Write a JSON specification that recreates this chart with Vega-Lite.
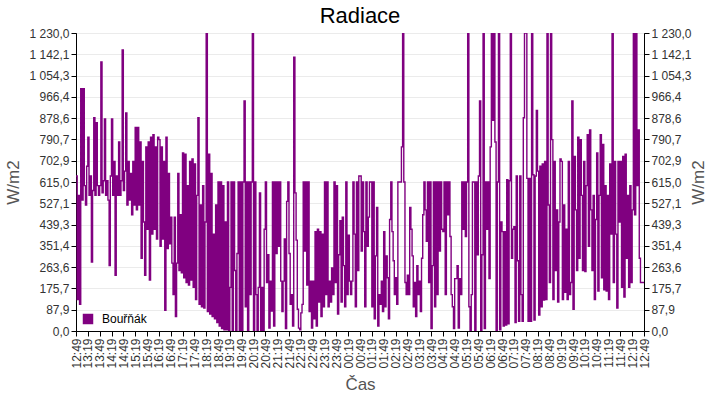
{
  "$schema": "https://vega.github.io/schema/vega-lite/v6.json",
  "description": "Radiace - Bourňák, 24 h",
  "width": 568,
  "height": 298,
  "autosize": "none",
  "padding": {"left": 76, "top": 33, "right": 76, "bottom": 69},
  "title": {"text": "Radiace", "fontSize": 22, "fontWeight": "normal", "font": "Liberation Sans", "color": "#000", "offset": -1},
  "data": {
    "values": [
      {"m":0,"v":640},{"m":3,"v":130},{"m":6,"v":560},{"m":9,"v":110},{"m":12,"v":1000},{"m":15,"v":540},{"m":18,"v":1000},{"m":21,"v":600},{"m":24,"v":520},{"m":27,"v":680},
      {"m":30,"v":800},{"m":33,"v":560},{"m":36,"v":640},{"m":39,"v":285},{"m":42,"v":580},{"m":45,"v":880},{"m":48,"v":560},{"m":51,"v":860},{"m":54,"v":600},{"m":57,"v":560},
      {"m":60,"v":600},{"m":63,"v":1110},{"m":66,"v":570},{"m":69,"v":620},{"m":72,"v":875},{"m":75,"v":560},{"m":78,"v":620},{"m":81,"v":540},{"m":84,"v":270},{"m":87,"v":640},
      {"m":90,"v":875},{"m":93,"v":560},{"m":96,"v":700},{"m":99,"v":230},{"m":102,"v":640},{"m":105,"v":560},{"m":108,"v":780},{"m":111,"v":560},{"m":114,"v":620},{"m":117,"v":1160},
      {"m":120,"v":580},{"m":123,"v":660},{"m":126,"v":900},{"m":129,"v":520},{"m":132,"v":700},{"m":135,"v":540},{"m":138,"v":650},{"m":141,"v":480},{"m":144,"v":700},{"m":147,"v":520},
      {"m":150,"v":840},{"m":153,"v":500},{"m":156,"v":840},{"m":159,"v":520},{"m":162,"v":780},{"m":165,"v":300},{"m":168,"v":700},{"m":171,"v":450},{"m":174,"v":230},{"m":177,"v":760},
      {"m":180,"v":420},{"m":183,"v":780},{"m":186,"v":210},{"m":189,"v":800},{"m":192,"v":400},{"m":195,"v":810},{"m":198,"v":420},{"m":201,"v":760},{"m":204,"v":380},{"m":207,"v":800},
      {"m":210,"v":790},{"m":213,"v":350},{"m":216,"v":760},{"m":219,"v":380},{"m":222,"v":700},{"m":225,"v":85},{"m":228,"v":800},{"m":231,"v":340},{"m":234,"v":650},{"m":237,"v":360},
      {"m":240,"v":470},{"m":243,"v":280},{"m":246,"v":150},{"m":249,"v":470},{"m":252,"v":60},{"m":255,"v":280},{"m":258,"v":650},{"m":261,"v":250},{"m":264,"v":480},{"m":267,"v":240},
      {"m":270,"v":735},{"m":273,"v":220},{"m":276,"v":730},{"m":279,"v":200},{"m":282,"v":600},{"m":285,"v":190},{"m":288,"v":700},{"m":291,"v":210},{"m":294,"v":710},{"m":297,"v":180},
      {"m":300,"v":690},{"m":303,"v":130},{"m":306,"v":560},{"m":309,"v":880},{"m":312,"v":110},{"m":315,"v":520},{"m":318,"v":100},{"m":321,"v":600},{"m":324,"v":95},{"m":327,"v":450},
      {"m":330,"v":1230},{"m":333,"v":80},{"m":336,"v":730},{"m":339,"v":70},{"m":342,"v":650},{"m":345,"v":60},{"m":348,"v":400},{"m":351,"v":50},{"m":354,"v":520},{"m":357,"v":35},
      {"m":360,"v":615},{"m":363,"v":20},{"m":366,"v":615},{"m":369,"v":10},{"m":372,"v":600},{"m":375,"v":5},{"m":378,"v":450},{"m":381,"v":5},{"m":384,"v":615},{"m":387,"v":3},
      {"m":390,"v":180},{"m":393,"v":615},{"m":396,"v":0},{"m":399,"v":615},{"m":402,"v":250},{"m":405,"v":0},{"m":408,"v":320},{"m":411,"v":615},{"m":414,"v":0},{"m":417,"v":615},
      {"m":420,"v":0},{"m":423,"v":615},{"m":426,"v":950},{"m":429,"v":100},{"m":432,"v":615},{"m":435,"v":0},{"m":438,"v":615},{"m":441,"v":150},{"m":444,"v":615},{"m":447,"v":1230},
      {"m":450,"v":0},{"m":453,"v":615},{"m":456,"v":150},{"m":459,"v":0},{"m":462,"v":180},{"m":465,"v":570},{"m":468,"v":0},{"m":471,"v":180},{"m":474,"v":0},{"m":477,"v":420},
      {"m":480,"v":615},{"m":483,"v":200},{"m":486,"v":315},{"m":489,"v":12},{"m":492,"v":206},{"m":495,"v":82},{"m":498,"v":615},{"m":501,"v":20},{"m":504,"v":615},{"m":507,"v":320},
      {"m":510,"v":615},{"m":513,"v":350},{"m":516,"v":615},{"m":519,"v":206},{"m":522,"v":80},{"m":525,"v":206},{"m":528,"v":380},{"m":531,"v":10},{"m":534,"v":535},{"m":537,"v":615},
      {"m":540,"v":320},{"m":543,"v":110},{"m":546,"v":150},{"m":549,"v":20},{"m":552,"v":1130},{"m":555,"v":570},{"m":558,"v":375},{"m":561,"v":90},{"m":564,"v":12},{"m":567,"v":5},
      {"m":570,"v":75},{"m":573,"v":110},{"m":576,"v":615},{"m":579,"v":330},{"m":582,"v":615},{"m":585,"v":190},{"m":588,"v":615},{"m":591,"v":80},{"m":594,"v":206},{"m":597,"v":12},
      {"m":600,"v":206},{"m":603,"v":50},{"m":606,"v":410},{"m":609,"v":20},{"m":612,"v":420},{"m":615,"v":120},{"m":618,"v":410},{"m":621,"v":60},{"m":624,"v":400},{"m":627,"v":100},
      {"m":630,"v":615},{"m":633,"v":150},{"m":636,"v":615},{"m":639,"v":100},{"m":642,"v":206},{"m":645,"v":120},{"m":648,"v":260},{"m":651,"v":150},{"m":654,"v":615},{"m":657,"v":200},
      {"m":660,"v":600},{"m":663,"v":70},{"m":666,"v":315},{"m":669,"v":455},{"m":672,"v":120},{"m":675,"v":470},{"m":678,"v":270},{"m":681,"v":100},{"m":684,"v":615},{"m":687,"v":150},
      {"m":690,"v":395},{"m":693,"v":206},{"m":696,"v":150},{"m":699,"v":206},{"m":702,"v":615},{"m":705,"v":400},{"m":708,"v":100},{"m":711,"v":615},{"m":714,"v":250},{"m":717,"v":640},
      {"m":720,"v":640},{"m":723,"v":330},{"m":726,"v":615},{"m":729,"v":410},{"m":732,"v":100},{"m":735,"v":615},{"m":738,"v":350},{"m":741,"v":470},{"m":744,"v":615},{"m":747,"v":615},
      {"m":750,"v":100},{"m":753,"v":615},{"m":756,"v":50},{"m":759,"v":310},{"m":762,"v":510},{"m":765,"v":20},{"m":768,"v":150},{"m":771,"v":110},{"m":774,"v":206},{"m":777,"v":80},
      {"m":780,"v":410},{"m":783,"v":100},{"m":786,"v":310},{"m":789,"v":220},{"m":792,"v":50},{"m":795,"v":460},{"m":798,"v":615},{"m":801,"v":410},{"m":804,"v":290},{"m":807,"v":150},
      {"m":810,"v":220},{"m":813,"v":110},{"m":816,"v":615},{"m":819,"v":615},{"m":822,"v":615},{"m":825,"v":760},{"m":828,"v":1230},{"m":831,"v":615},{"m":834,"v":200},{"m":837,"v":150},
      {"m":840,"v":230},{"m":843,"v":150},{"m":846,"v":510},{"m":849,"v":420},{"m":852,"v":310},{"m":855,"v":100},{"m":858,"v":200},{"m":861,"v":60},{"m":864,"v":270},{"m":867,"v":150},
      {"m":870,"v":206},{"m":873,"v":80},{"m":876,"v":300},{"m":879,"v":480},{"m":882,"v":615},{"m":885,"v":500},{"m":888,"v":370},{"m":891,"v":615},{"m":894,"v":200},{"m":897,"v":615},
      {"m":900,"v":10},{"m":903,"v":270},{"m":906,"v":615},{"m":909,"v":100},{"m":912,"v":615},{"m":915,"v":150},{"m":918,"v":615},{"m":921,"v":330},{"m":924,"v":615},{"m":927,"v":420},
      {"m":930,"v":410},{"m":933,"v":615},{"m":936,"v":150},{"m":939,"v":615},{"m":942,"v":480},{"m":945,"v":615},{"m":948,"v":390},{"m":951,"v":150},{"m":954,"v":100},{"m":957,"v":10},
      {"m":960,"v":216},{"m":963,"v":216},{"m":966,"v":270},{"m":969,"v":12},{"m":972,"v":216},{"m":975,"v":150},{"m":978,"v":615},{"m":981,"v":420},{"m":984,"v":615},{"m":987,"v":390},
      {"m":990,"v":615},{"m":993,"v":1230},{"m":996,"v":100},{"m":999,"v":0},{"m":1002,"v":150},{"m":1005,"v":615},{"m":1008,"v":615},{"m":1011,"v":0},{"m":1014,"v":615},{"m":1017,"v":315},
      {"m":1020,"v":640},{"m":1023,"v":950},{"m":1026,"v":0},{"m":1029,"v":315},{"m":1032,"v":1230},{"m":1035,"v":10},{"m":1038,"v":615},{"m":1041,"v":420},{"m":1044,"v":615},{"m":1047,"v":216},
      {"m":1050,"v":760},{"m":1053,"v":1230},{"m":1056,"v":870},{"m":1059,"v":1230},{"m":1062,"v":780},{"m":1065,"v":0},{"m":1068,"v":615},{"m":1071,"v":1230},{"m":1074,"v":5},{"m":1077,"v":450},
      {"m":1080,"v":410},{"m":1083,"v":20},{"m":1086,"v":410},{"m":1089,"v":25},{"m":1092,"v":625},{"m":1095,"v":30},{"m":1098,"v":620},{"m":1101,"v":1230},{"m":1104,"v":300},{"m":1107,"v":420},
      {"m":1110,"v":430},{"m":1113,"v":35},{"m":1116,"v":640},{"m":1119,"v":290},{"m":1122,"v":40},{"m":1125,"v":640},{"m":1128,"v":150},{"m":1131,"v":40},{"m":1134,"v":880},{"m":1137,"v":1230},
      {"m":1140,"v":1230},{"m":1143,"v":630},{"m":1146,"v":40},{"m":1149,"v":630},{"m":1152,"v":40},{"m":1155,"v":1230},{"m":1158,"v":645},{"m":1161,"v":45},{"m":1164,"v":640},{"m":1167,"v":910},
      {"m":1170,"v":660},{"m":1173,"v":66},{"m":1176,"v":680},{"m":1179,"v":100},{"m":1182,"v":690},{"m":1185,"v":128},{"m":1188,"v":700},{"m":1191,"v":130},{"m":1194,"v":1230},{"m":1197,"v":520},
      {"m":1200,"v":200},{"m":1203,"v":1230},{"m":1206,"v":790},{"m":1209,"v":130},{"m":1212,"v":700},{"m":1215,"v":250},{"m":1218,"v":500},{"m":1221,"v":120},{"m":1224,"v":450},{"m":1227,"v":710},
      {"m":1230,"v":700},{"m":1233,"v":130},{"m":1236,"v":520},{"m":1239,"v":160},{"m":1242,"v":420},{"m":1245,"v":130},{"m":1248,"v":700},{"m":1251,"v":150},{"m":1254,"v":200},{"m":1257,"v":950},
      {"m":1260,"v":90},{"m":1263,"v":720},{"m":1266,"v":500},{"m":1269,"v":250},{"m":1272,"v":800},{"m":1275,"v":300},{"m":1278,"v":790},{"m":1281,"v":560},{"m":1284,"v":250},{"m":1287,"v":700},
      {"m":1290,"v":245},{"m":1293,"v":600},{"m":1296,"v":810},{"m":1299,"v":350},{"m":1302,"v":830},{"m":1305,"v":500},{"m":1308,"v":250},{"m":1311,"v":560},{"m":1314,"v":130},{"m":1317,"v":460},
      {"m":1320,"v":735},{"m":1323,"v":165},{"m":1326,"v":560},{"m":1329,"v":810},{"m":1332,"v":220},{"m":1335,"v":770},{"m":1338,"v":170},{"m":1341,"v":600},{"m":1344,"v":165},{"m":1347,"v":560},
      {"m":1350,"v":130},{"m":1353,"v":690},{"m":1356,"v":400},{"m":1359,"v":1230},{"m":1362,"v":200},{"m":1365,"v":700},{"m":1368,"v":400},{"m":1371,"v":95},{"m":1374,"v":700},{"m":1377,"v":450},
      {"m":1380,"v":700},{"m":1383,"v":180},{"m":1386,"v":720},{"m":1389,"v":140},{"m":1392,"v":730},{"m":1395,"v":300},{"m":1398,"v":560},{"m":1401,"v":180},{"m":1404,"v":600},{"m":1407,"v":200},
      {"m":1410,"v":500},{"m":1413,"v":1230},{"m":1416,"v":480},{"m":1419,"v":1230},{"m":1422,"v":600},{"m":1425,"v":830},{"m":1428,"v":300},{"m":1431,"v":200},{"m":1434,"v":200},{"m":1437,"v":200},
      {"m":1440,"v":200}
    ]
  },
  "encoding": {
    "x": {
      "field": "m",
      "type": "quantitative",
      "scale": {"domain": [0, 1440], "nice": false, "zero": false},
      "axis": {
        "title": "Čas",
        "values": [0,30,60,90,120,150,180,210,240,270,300,330,360,390,420,450,480,510,540,570,600,630,660,690,720,750,780,810,840,870,900,930,960,990,1020,1050,1080,1110,1140,1170,1200,1230,1260,1290,1320,1350,1380,1410,1440],
        "labelExpr": "pad(toString(floor(((datum.value + 769) % 1440) / 60)), 2, '0', 'left') + ':' + toString((datum.value + 769) % 60)",
        "labelAngle": 270,
        "labelOverlap": false,
        "labelFlush": false,
        "labelPadding": 2,
        "grid": false,
        "titlePadding": 8
      }
    }
  },
  "layer": [
    {
      "mark": {"type": "line", "interpolate": "step-after", "strokeWidth": 1.4, "clip": true},
      "encoding": {
        "y": {
          "field": "v",
          "type": "quantitative",
          "scale": {"domain": [0, 1230], "nice": false},
          "axis": {
            "title": "W/m2",
            "values": [0, 87.857, 175.714, 263.571, 351.429, 439.286, 527.143, 615, 702.857, 790.714, 878.571, 966.429, 1054.286, 1142.143, 1230],
            "format": ",.1f",
            "titlePadding": 6
          }
        },
        "color": {
          "datum": "Bouřňák",
          "type": "nominal",
          "scale": {"range": ["#800080"]},
          "legend": {
            "title": null,
            "orient": "bottom-left",
            "offset": 6,
            "padding": 0,
            "symbolType": "square",
            "symbolSize": 110,
            "symbolFillColor": "#800080",
            "symbolStrokeColor": "#800080",
            "symbolStrokeWidth": 0,
            "labelFontSize": 12,
            "labelColor": "#000",
            "labelFont": "Liberation Sans",
            "labelOffset": 8
          }
        }
      }
    },
    {
      "mark": {"type": "line", "opacity": 0},
      "encoding": {
        "y": {
          "field": "v",
          "type": "quantitative",
          "axis": {
            "orient": "right",
            "title": "W/m2",
            "titleAngle": 270,
            "values": [0, 87.857, 175.714, 263.571, 351.429, 439.286, 527.143, 615, 702.857, 790.714, 878.571, 966.429, 1054.286, 1142.143, 1230],
            "format": ",.1f",
            "grid": false,
            "titlePadding": 16
          }
        }
      }
    }
  ],
  "resolve": {"axis": {"y": "independent"}},
  "config": {
    "locale": {"number": {"decimal": ",", "thousands": " ", "grouping": [3], "currency": ["", ""]}},
    "view": {"stroke": "#000", "strokeWidth": 1},
    "font": "Liberation Sans",
    "axis": {
      "domainColor": "#000",
      "tickColor": "#000",
      "tickSize": 5,
      "labelFontSize": 12,
      "labelColor": "#333",
      "labelFont": "Liberation Sans",
      "titleFont": "Liberation Sans",
      "titleFontSize": 17,
      "titleFontWeight": "normal",
      "titleColor": "#555",
      "gridColor": "#ebebeb"
    }
  }
}
